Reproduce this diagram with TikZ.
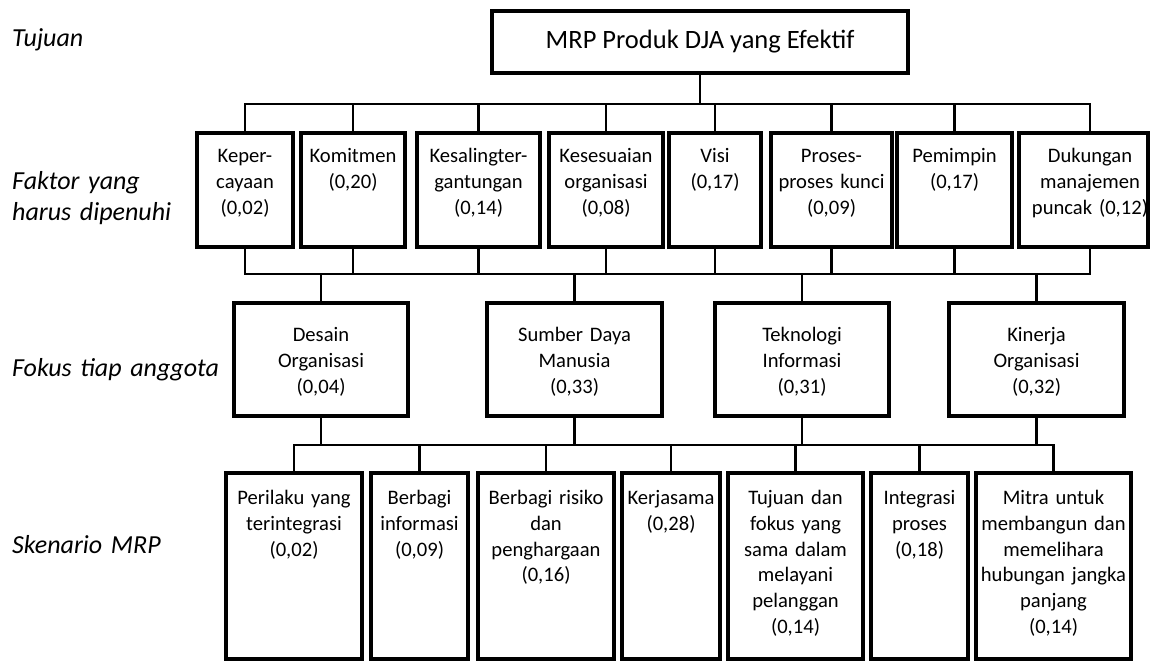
\documentclass[tikz,border=0pt]{standalone}
\usepackage{fontspec}
\setmainfont{Carlito}
\tikzset{
  kotak/.style={draw, line width=3.2pt, inner sep=0pt},
  isi/.style={anchor=base, text width=160pt, align=center, inner sep=0pt, font=\fontsize{20.6}{25.8}\selectfont},
  garis/.style={line width=2.2pt},
  ket/.style={anchor=base west, text width=260pt, align=left, inner sep=0pt, font=\itshape\fontsize{26}{31}\selectfont}
}
\begin{document}
\begin{tikzpicture}[x=1pt,y=-1pt]
        \useasboundingbox (0,0) rectangle (1150,661);
        % keterangan kiri
        \node[ket] (tujuan) at (12,47) {Tujuan};
        \node[ket] (faktor) at (12,189) {Faktor yang\\harus dipenuhi};
        \node[ket] (fokus) at (12,376) {Fokus tiap anggota};
        \node[ket] (skenario) at (12,553) {Skenario MRP};
        % tujuan
        \node[kotak, minimum width=416pt, minimum height=62pt, font=\fontsize{26.5}{32}\selectfont] (judul) at (700,42) {MRP Produk DJA yang Efektif};
        % faktor
        \node[kotak, minimum width=96pt, minimum height=114pt] (f1) at (245,190) {};
        \node[kotak, minimum width=104pt, minimum height=114pt] (f2) at (353,190) {};
        \node[kotak, minimum width=123pt, minimum height=114pt] (f3) at (478.5,190) {};
        \node[kotak, minimum width=114pt, minimum height=114pt] (f4) at (606,190) {};
        \node[kotak, minimum width=92pt, minimum height=114pt] (f5) at (715,190) {};
        \node[kotak, minimum width=121pt, minimum height=114pt] (f6) at (831.5,190) {};
        \node[kotak, minimum width=115pt, minimum height=114pt] (f7) at (954.5,190) {};
        \node[kotak, minimum width=129pt, minimum height=114pt] (f8) at (1083.5,190) {};
        \node[isi] (tf1) at ([yshift=-31pt]f1.north) {Keper-\\cayaan\\(0,02)};
        \node[isi] (tf2) at ([yshift=-31pt]f2.north) {Komitmen\\(0,20)};
        \node[isi] (tf3) at ([yshift=-31pt]f3.north) {Kesalingter-\\gantungan\\(0,14)};
        \node[isi] (tf4) at ([yshift=-31pt]f4.north) {Kesesuaian\\organisasi\\(0,08)};
        \node[isi] (tf5) at ([yshift=-31pt]f5.north) {Visi\\(0,17)};
        \node[isi] (tf6) at ([yshift=-31pt]f6.north) {Proses-\\proses kunci\\(0,09)};
        \node[isi] (tf7) at ([yshift=-31pt]f7.north) {Pemimpin\\(0,17)};
        \node[isi] (tf8) at ([xshift=6.5pt,yshift=-31pt]f8.north) {Dukungan\\manajemen\\puncak (0,12)};
        % fokus
        \node[kotak, minimum width=174pt, minimum height=113pt] (d1) at (321,359.5) {};
        \node[kotak, minimum width=175pt, minimum height=113pt] (d2) at (574.5,359.5) {};
        \node[kotak, minimum width=174pt, minimum height=113pt] (d3) at (802,359.5) {};
        \node[kotak, minimum width=175pt, minimum height=113pt] (d4) at (1036.5,359.5) {};
        \node[isi] (td1) at ([yshift=-40pt]d1.north) {Desain\\Organisasi\\(0,04)};
        \node[isi] (td2) at ([yshift=-40pt]d2.north) {Sumber Daya\\Manusia\\(0,33)};
        \node[isi] (td3) at ([yshift=-40pt]d3.north) {Teknologi\\Informasi\\(0,31)};
        \node[isi] (td4) at ([yshift=-40pt]d4.north) {Kinerja\\Organisasi\\(0,32)};
        % skenario
        \node[kotak, minimum width=136pt, minimum height=186pt] (s1) at (294,566) {};
        \node[kotak, minimum width=97pt, minimum height=186pt] (s2) at (419.5,566) {};
        \node[kotak, minimum width=136pt, minimum height=186pt] (s3) at (546,566) {};
        \node[kotak, minimum width=98pt, minimum height=186pt] (s4) at (671,566) {};
        \node[kotak, minimum width=135pt, minimum height=186pt] (s5) at (795.5,566) {};
        \node[kotak, minimum width=97pt, minimum height=186pt] (s6) at (919.5,566) {};
        \node[kotak, minimum width=155pt, minimum height=186pt] (s7) at (1053.5,566) {};
        \node[isi] (ts1) at ([yshift=-33pt]s1.north) {Perilaku yang\\terintegrasi\\(0,02)};
        \node[isi] (ts2) at ([yshift=-33pt]s2.north) {Berbagi\\informasi\\(0,09)};
        \node[isi] (ts3) at ([yshift=-33pt]s3.north) {Berbagi risiko\\dan\\penghargaan\\(0,16)};
        \node[isi] (ts4) at ([yshift=-33pt]s4.north) {Kerjasama\\(0,28)};
        \node[isi] (ts5) at ([yshift=-33pt]s5.north) {Tujuan dan\\fokus yang\\sama dalam\\melayani\\pelanggan\\(0,14)};
        \node[isi] (ts6) at ([yshift=-33pt]s6.north) {Integrasi\\proses\\(0,18)};
        \node[isi] (ts7) at ([yshift=-33pt]s7.north) {Mitra untuk\\membangun dan\\memelihara\\hubungan jangka\\panjang\\(0,14)};
        % garis penghubung
        \coordinate (bus1) at (700,104);
        \coordinate (bus2) at (660,274);
        \coordinate (bus3) at (680,445);
        \draw[garis] (judul.south) to (bus1);
        \foreach \i in {1,...,7}
            \draw[garis] (f\i.north) |- (bus1);
        \draw[garis] ([xshift=6.5pt]f8.north) |- (bus1);
        \foreach \i in {1,...,7}
            \draw[garis] (f\i.south) |- (bus2);
        \draw[garis] ([xshift=6.5pt]f8.south) |- (bus2);
        \foreach \i in {1,...,4} {
            \draw[garis] (d\i.north) |- (bus2);
            \draw[garis] (d\i.south) |- (bus3);
        }
        \foreach \i in {1,...,7}
            \draw[garis] (s\i.north) |- (bus3);
    \end{tikzpicture}
\end{document}
